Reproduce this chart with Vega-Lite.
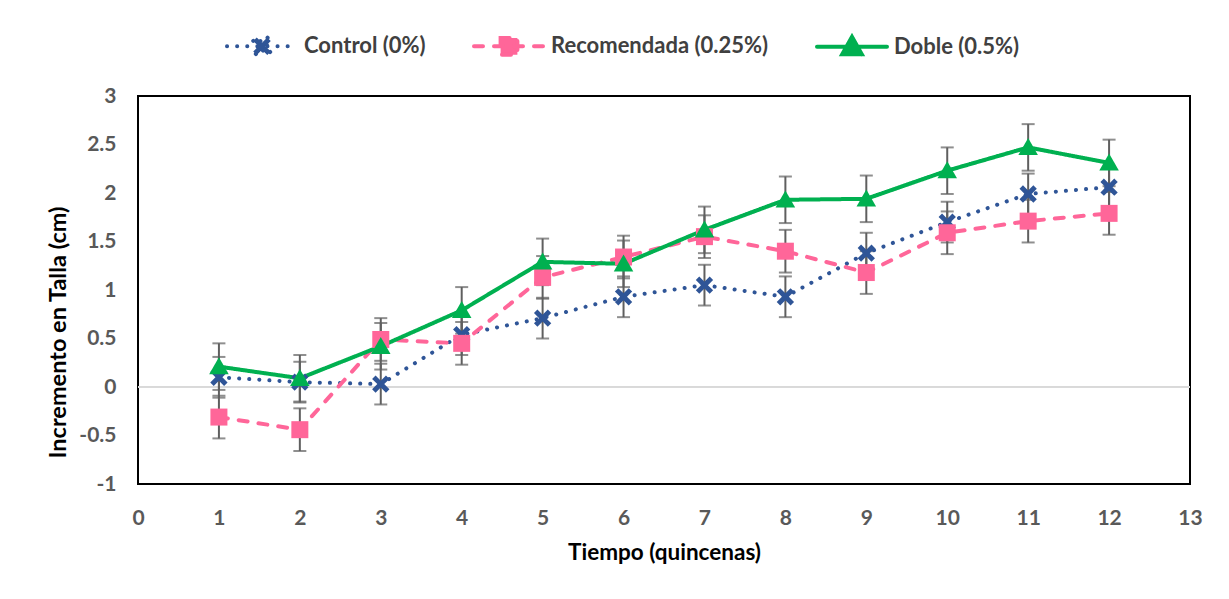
{
  "$schema": "https://vega.github.io/schema/vega-lite/v6.json",
  "width": 1052,
  "height": 388,
  "autosize": {"type": "none"},
  "padding": {"left": 138, "top": 96, "right": 39, "bottom": 115},
  "background": "white",
  "config": {
    "view": {"stroke": "black", "strokeWidth": 2},
    "font": "Lato"
  },
  "data": {
    "values": [
      {"t": 1, "serie": "Control (0%)", "v": 0.10, "err": 0.21},
      {"t": 2, "serie": "Control (0%)", "v": 0.05, "err": 0.21},
      {"t": 3, "serie": "Control (0%)", "v": 0.03, "err": 0.21},
      {"t": 4, "serie": "Control (0%)", "v": 0.54, "err": 0.21},
      {"t": 5, "serie": "Control (0%)", "v": 0.71, "err": 0.21},
      {"t": 6, "serie": "Control (0%)", "v": 0.93, "err": 0.21},
      {"t": 7, "serie": "Control (0%)", "v": 1.05, "err": 0.21},
      {"t": 8, "serie": "Control (0%)", "v": 0.93, "err": 0.21},
      {"t": 9, "serie": "Control (0%)", "v": 1.38, "err": 0.21},
      {"t": 10, "serie": "Control (0%)", "v": 1.70, "err": 0.21},
      {"t": 11, "serie": "Control (0%)", "v": 1.99, "err": 0.21},
      {"t": 12, "serie": "Control (0%)", "v": 2.06, "err": 0.21},
      {"t": 1, "serie": "Recomendada (0.25%)", "v": -0.31, "err": 0.22},
      {"t": 2, "serie": "Recomendada (0.25%)", "v": -0.44, "err": 0.22},
      {"t": 3, "serie": "Recomendada (0.25%)", "v": 0.49, "err": 0.22},
      {"t": 4, "serie": "Recomendada (0.25%)", "v": 0.45, "err": 0.22},
      {"t": 5, "serie": "Recomendada (0.25%)", "v": 1.13, "err": 0.22},
      {"t": 6, "serie": "Recomendada (0.25%)", "v": 1.34, "err": 0.22},
      {"t": 7, "serie": "Recomendada (0.25%)", "v": 1.55, "err": 0.22},
      {"t": 8, "serie": "Recomendada (0.25%)", "v": 1.40, "err": 0.22},
      {"t": 9, "serie": "Recomendada (0.25%)", "v": 1.18, "err": 0.22},
      {"t": 10, "serie": "Recomendada (0.25%)", "v": 1.59, "err": 0.22},
      {"t": 11, "serie": "Recomendada (0.25%)", "v": 1.71, "err": 0.22},
      {"t": 12, "serie": "Recomendada (0.25%)", "v": 1.79, "err": 0.22},
      {"t": 1, "serie": "Doble (0.5%)", "v": 0.21, "err": 0.24},
      {"t": 2, "serie": "Doble (0.5%)", "v": 0.09, "err": 0.24},
      {"t": 3, "serie": "Doble (0.5%)", "v": 0.42, "err": 0.24},
      {"t": 4, "serie": "Doble (0.5%)", "v": 0.79, "err": 0.24},
      {"t": 5, "serie": "Doble (0.5%)", "v": 1.29, "err": 0.24},
      {"t": 6, "serie": "Doble (0.5%)", "v": 1.27, "err": 0.24},
      {"t": 7, "serie": "Doble (0.5%)", "v": 1.62, "err": 0.24},
      {"t": 8, "serie": "Doble (0.5%)", "v": 1.93, "err": 0.24},
      {"t": 9, "serie": "Doble (0.5%)", "v": 1.94, "err": 0.24},
      {"t": 10, "serie": "Doble (0.5%)", "v": 2.23, "err": 0.24},
      {"t": 11, "serie": "Doble (0.5%)", "v": 2.47, "err": 0.24},
      {"t": 12, "serie": "Doble (0.5%)", "v": 2.31, "err": 0.24}
    ]
  },
  "encoding": {
    "x": {
      "field": "t", "type": "quantitative",
      "scale": {"domain": [0, 13], "nice": false, "zero": false},
      "axis": {
        "title": "Tiempo (quincenas)", "values": [0,1,2,3,4,5,6,7,8,9,10,11,12,13],
        "grid": false, "domain": false, "ticks": false,
        "labelFont": "Lato", "labelFontSize": 21, "labelFontWeight": "bold", "labelColor": "#595959",
        "labelPadding": 23, "labelFlush": false,
        "titleFont": "Lato", "titleFontSize": 22.5, "titleFontWeight": "bold", "titleColor": "#000000",
        "titlePadding": 13
      }
    },
    "y": {
      "field": "v", "type": "quantitative",
      "scale": {"domain": [-1, 3], "nice": false, "zero": false},
      "axis": {
        "title": "Incremento en Talla (cm)", "values": [-1,-0.5,0,0.5,1,1.5,2,2.5,3],
        "labelExpr": "'' + datum.value",
        "grid": false, "domain": false, "ticks": false,
        "labelFont": "Lato", "labelFontSize": 21, "labelFontWeight": "bold", "labelColor": "#595959",
        "labelPadding": 22, "labelFlush": false,
        "titleFont": "Lato", "titleFontSize": 23.5, "titleFontWeight": "bold", "titleColor": "#000000",
        "titlePadding": 8, "titleY": 236
      }
    }
  },
  "layer": [
    {
      "mark": {"type": "rule", "color": "#d9d9d9", "strokeWidth": 1},
      "encoding": {"y": {"datum": 0}, "x": null}
    },
    {
      "mark": {"type": "errorbar", "color": "#5f5f5f", "thickness": 2, "ticks": {"size": 13, "thickness": 2, "color": "#5f5f5f"}},
      "encoding": {
        "yError": {"field": "err"},
        "detail": {"field": "serie"}
      }
    },
    {
      "mark": {"type": "line", "strokeWidth": 4, "strokeCap": "round"},
      "encoding": {
        "color": {
          "field": "serie", "type": "nominal",
          "scale": {"domain": ["Control (0%)", "Recomendada (0.25%)", "Doble (0.5%)"], "range": ["#2F5597", "#FF6699", "#00B050"]},
          "legend": {
            "title": null, "orient": "none", "direction": "horizontal",
            "legendX": 87, "legendY": -87, "padding": 0,
            "symbolSize": 4900, "symbolStrokeWidth": 4,
            "labelFont": "Lato", "labelFontSize": 22, "labelFontWeight": "bold", "labelColor": "#404040",
            "labelOffset": 5, "columnPadding": 40, "labelLimit": 400,
            "encode": {
              "symbols": {
                "update": {
                  "shape": {"signal": "datum.value === 'Control (0%)' ? 'M-1,0H1M-0.25,-0.15L-0.15,-0.25L0,-0.1L0.15,-0.25L0.25,-0.15L0.1,0L0.25,0.15L0.15,0.25L0,0.1L-0.15,0.25L-0.25,0.15L-0.1,0Z' : datum.value === 'Recomendada (0.25%)' ? 'M-1,0H1M-0.24,-0.24H0.24V0.24H-0.24Z' : 'M-1,0H1M0,-0.28L0.28,0.22H-0.28Z'"},
                  "fill": {"scale": "color", "field": "value"},
                  "stroke": {"scale": "color", "field": "value"},
                  "strokeDash": {"scale": "strokeDash", "field": "value"},
                  "strokeCap": {"value": "round"},
                  "strokeWidth": {"value": 4},
                  "opacity": {"value": 1}
                }
              }
            }
          }
        },
        "strokeDash": {
          "field": "serie", "type": "nominal",
          "scale": {"domain": ["Control (0%)", "Recomendada (0.25%)", "Doble (0.5%)"], "range": [[0.1, 10], [9, 11], [1, 0]]},
          "legend": null
        }
      }
    },
    {
      "transform": [{"filter": "datum.serie === 'Control (0%)'"}],
      "mark": {"type": "point", "filled": true, "opacity": 1, "size": 300, "strokeWidth": 0, "shape": "M-1,-0.6L-0.6,-1L0,-0.4L0.6,-1L1,-0.6L0.4,0L1,0.6L0.6,1L0,0.4L-0.6,1L-1,0.6L-0.4,0Z"},
      "encoding": {"color": {"field": "serie", "type": "nominal", "legend": null}}
    },
    {
      "transform": [{"filter": "datum.serie === 'Recomendada (0.25%)'"}],
      "mark": {"type": "point", "filled": true, "opacity": 1, "size": 289, "strokeWidth": 0, "shape": "M-1,-1H1V1H-1Z"},
      "encoding": {"color": {"field": "serie", "type": "nominal", "legend": null}}
    },
    {
      "transform": [{"filter": "datum.serie === 'Doble (0.5%)'"}],
      "mark": {"type": "point", "filled": true, "opacity": 1, "size": 289, "strokeWidth": 0, "shape": "M0,-1.1L1.15,0.9H-1.15Z"},
      "encoding": {"color": {"field": "serie", "type": "nominal", "legend": null}}
    }
  ]
}
